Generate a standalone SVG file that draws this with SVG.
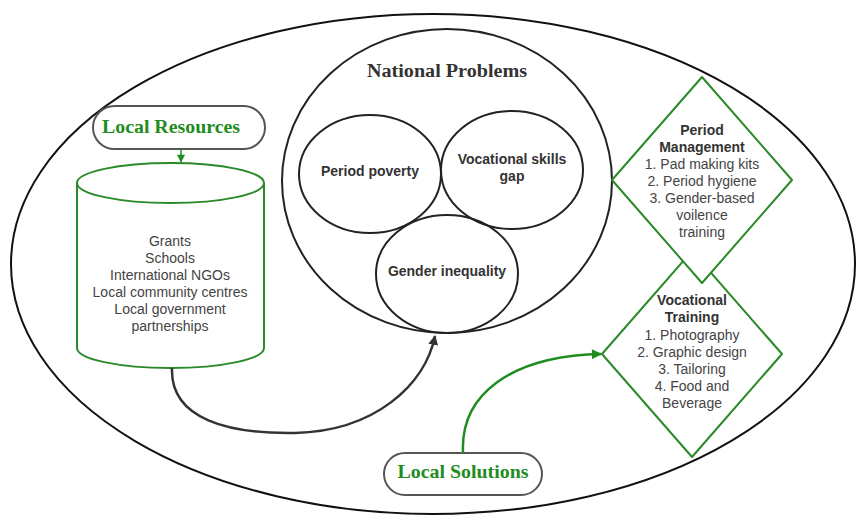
<svg xmlns="http://www.w3.org/2000/svg" width="856" height="515" viewBox="0 0 856 515">
<defs>
<style>
.blk{fill:none;stroke:#222;stroke-width:2}
.grn{fill:#fff;stroke:#2a8a2a;stroke-width:2;stroke-linejoin:round}
.pill{fill:#fff;stroke:#555;stroke-width:2}
.gt{font-family:"Liberation Serif","Times New Roman",serif;font-weight:bold;font-size:19px;fill:#1f8c1f;text-anchor:middle}
.ht{font-family:"Liberation Serif","Times New Roman",serif;font-weight:bold;font-size:18px;fill:#333;text-anchor:middle}
.bt{font-family:"Liberation Sans",Arial,sans-serif;font-weight:bold;font-size:14px;fill:#333;text-anchor:middle}
.nt{font-family:"Liberation Sans",Arial,sans-serif;font-size:14px;fill:#444;text-anchor:middle}
</style>
<marker id="ab" viewBox="0 0 10 10" refX="9" refY="5" markerWidth="10" markerHeight="10" markerUnits="userSpaceOnUse" orient="auto">
<path d="M0,0 L10,5 L0,10 Z" fill="#333"/>
</marker>
<marker id="ag" viewBox="0 0 10 10" refX="9" refY="5" markerWidth="14" markerHeight="10" markerUnits="userSpaceOnUse" orient="auto">
<path d="M0,0 L10,5 L0,10 Z" fill="#1f8c1f"/>
</marker>
<marker id="ags" viewBox="0 0 10 10" refX="9" refY="5" markerWidth="10" markerHeight="8" markerUnits="userSpaceOnUse" orient="auto">
<path d="M0,0 L10,5 L0,10 Z" fill="#1f8c1f"/>
</marker>
</defs>
<rect width="856" height="515" fill="#fff"/>
<g id="outer"><ellipse cx="433" cy="264" rx="422" ry="250" fill="#fff" stroke="#111" stroke-width="2"/></g>

<g id="national-problems">
<ellipse cx="447" cy="181" rx="165" ry="152" class="blk"/>
<text x="447" y="77" class="ht" textLength="160" lengthAdjust="spacingAndGlyphs">National Problems</text>
</g>
<g id="period-poverty">
<ellipse cx="370" cy="174" rx="71" ry="59" class="blk"/>
<text x="370" y="176" class="bt">Period poverty</text>
</g>
<g id="vocational-skills-gap">
<ellipse cx="512" cy="170" rx="71" ry="59" class="blk"/>
<text x="512" y="164" class="bt">Vocational skills</text>
<text x="512" y="181" class="bt">gap</text>
</g>
<g id="gender-inequality">
<ellipse cx="447" cy="274" rx="71" ry="59" class="blk"/>
<text x="447" y="276" class="bt">Gender inequality</text>
</g>

<g id="local-resources">
<rect x="93" y="106" width="172" height="43" rx="21.5" class="pill"/>
<text x="171" y="133" class="gt" textLength="138" lengthAdjust="spacingAndGlyphs">Local Resources</text>
</g>
<g id="resources-cylinder">
<path d="M77,183 L77,348 A93.5,20 0 0 0 264,348 L264,183" class="grn"/>
<ellipse cx="170.5" cy="183" rx="93.5" ry="20" class="grn"/>
<text x="170" y="246" class="nt">Grants</text>
<text x="170" y="263" class="nt">Schools</text>
<text x="170" y="280" class="nt">International NGOs</text>
<text x="170" y="297" class="nt">Local community centres</text>
<text x="170" y="314" class="nt">Local government</text>
<text x="170" y="331" class="nt">partnerships</text>
</g>

<g id="vocational-training">
<path d="M692,251 L782,354 L692,457 L602,354 Z" class="grn"/>
<text x="692" y="305" class="bt">Vocational</text>
<text x="692" y="322" class="bt">Training</text>
<text x="692" y="340" class="nt">1. Photography</text>
<text x="692" y="357" class="nt">2. Graphic design</text>
<text x="692" y="374" class="nt">3. Tailoring</text>
<text x="692" y="391" class="nt">4. Food and</text>
<text x="692" y="408" class="nt">Beverage</text>
</g>
<g id="period-management">
<path d="M702,77 L792,180 L702,283 L612,180 Z" class="grn"/>
<text x="702" y="135" class="bt">Period</text>
<text x="702" y="152" class="bt">Management</text>
<text x="702" y="169" class="nt">1. Pad making kits</text>
<text x="702" y="186" class="nt">2. Period hygiene</text>
<text x="702" y="203" class="nt">3. Gender-based</text>
<text x="702" y="220" class="nt">voilence</text>
<text x="702" y="237" class="nt">training</text>
</g>

<g id="local-solutions">
<rect x="384" y="453" width="158" height="42" rx="21" class="pill"/>
<text x="463" y="478" class="gt" textLength="131" lengthAdjust="spacingAndGlyphs">Local Solutions</text>
</g>

<g id="connectors">
<path d="M181,149 L181,162" fill="none" stroke="#1f8c1f" stroke-width="1.5" marker-end="url(#ags)"/>
<path d="M172,368 C170,420 230,434 295,433 C375,431 425,385 435,336" fill="none" stroke="#333" stroke-width="2.5" marker-end="url(#ab)"/>
<path d="M463,453 C460,395 510,356 601,354" fill="none" stroke="#1f8c1f" stroke-width="2.5" marker-end="url(#ag)"/>
</g>
</svg>
